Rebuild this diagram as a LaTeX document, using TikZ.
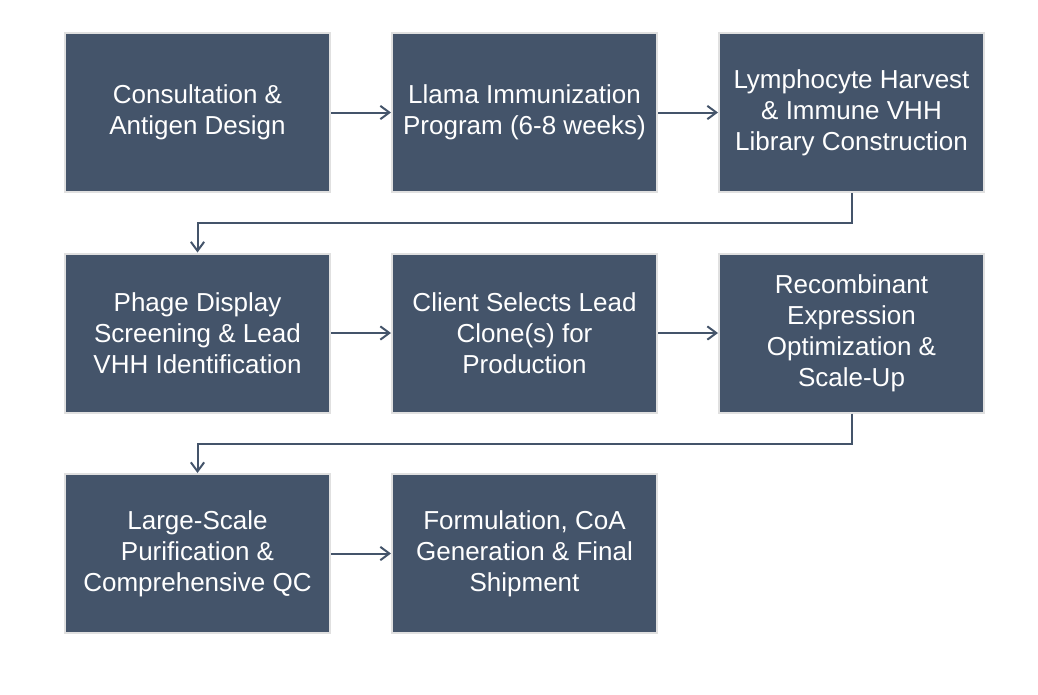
\documentclass[tikz,border=0pt]{standalone}
\usepackage{fontspec}
\setmainfont{Liberation Sans}
\usetikzlibrary{arrows.meta}

\definecolor{slate}{RGB}{68,84,106}
\definecolor{rim}{RGB}{224,224,224}

\tikzset{every picture/.style={line width=0.75pt}}
\tikzset{
  stepbox/.style={draw=rim, line width=1.5pt, fill=slate, text=white,
    minimum width=198.75pt, minimum height=119.25pt, inner sep=0pt, align=center,
    font=\fontsize{19.5}{23.25}\selectfont},
  link/.style={draw=slate, line width=1.5pt,
    -{Straight Barb[length=6.75pt,width=10pt,line width=1.5pt]}}
}

\begin{document}
\begin{tikzpicture}[x=0.75pt,y=0.75pt,yscale=-1,xscale=1]
%set diagram size
\path[use as bounding box] (0,0) rectangle (1038,694);

%Row 1
\node[stepbox] (consult) at (197.5,112.5) {Consultation \&\\Antigen Design};
\node[stepbox] (immun) at (524.5,112.5) {Llama Immunization\\Program (6-8 weeks)};
\node[stepbox] (library) at (851.5,112.5) {Lymphocyte Harvest\\\& Immune VHH\\Library Construction};
%Row 2
\node[stepbox] (phage) at (197.5,333) {Phage Display\\Screening \& Lead\\VHH Identification};
\node[stepbox] (select) at (524.5,333) {Client Selects Lead\\Clone(s) for\\Production};
\node[stepbox] (express) at (851.5,333) {Recombinant\\Expression\\Optimization \&\\Scale-Up};
%Row 3
\node[stepbox] (purify) at (197.5,553.5) {Large-Scale\\Purification \&\\Comprehensive QC};
\node[stepbox] (ship) at (524.5,553.5) {Formulation, CoA\\Generation \& Final\\Shipment};

%Straight Lines
\draw[link] (consult) -- (immun);
\draw[link] (immun) -- (library);
\draw[link] (phage) -- (select);
\draw[link] (select) -- (express);
\draw[link] (purify) -- (ship);

%Elbow Lines
\draw[link] (library.south) -- ++(0,30) -| (phage.north);
\draw[link] (express.south) -- ++(0,30) -| (purify.north);

\end{tikzpicture}
\end{document}
